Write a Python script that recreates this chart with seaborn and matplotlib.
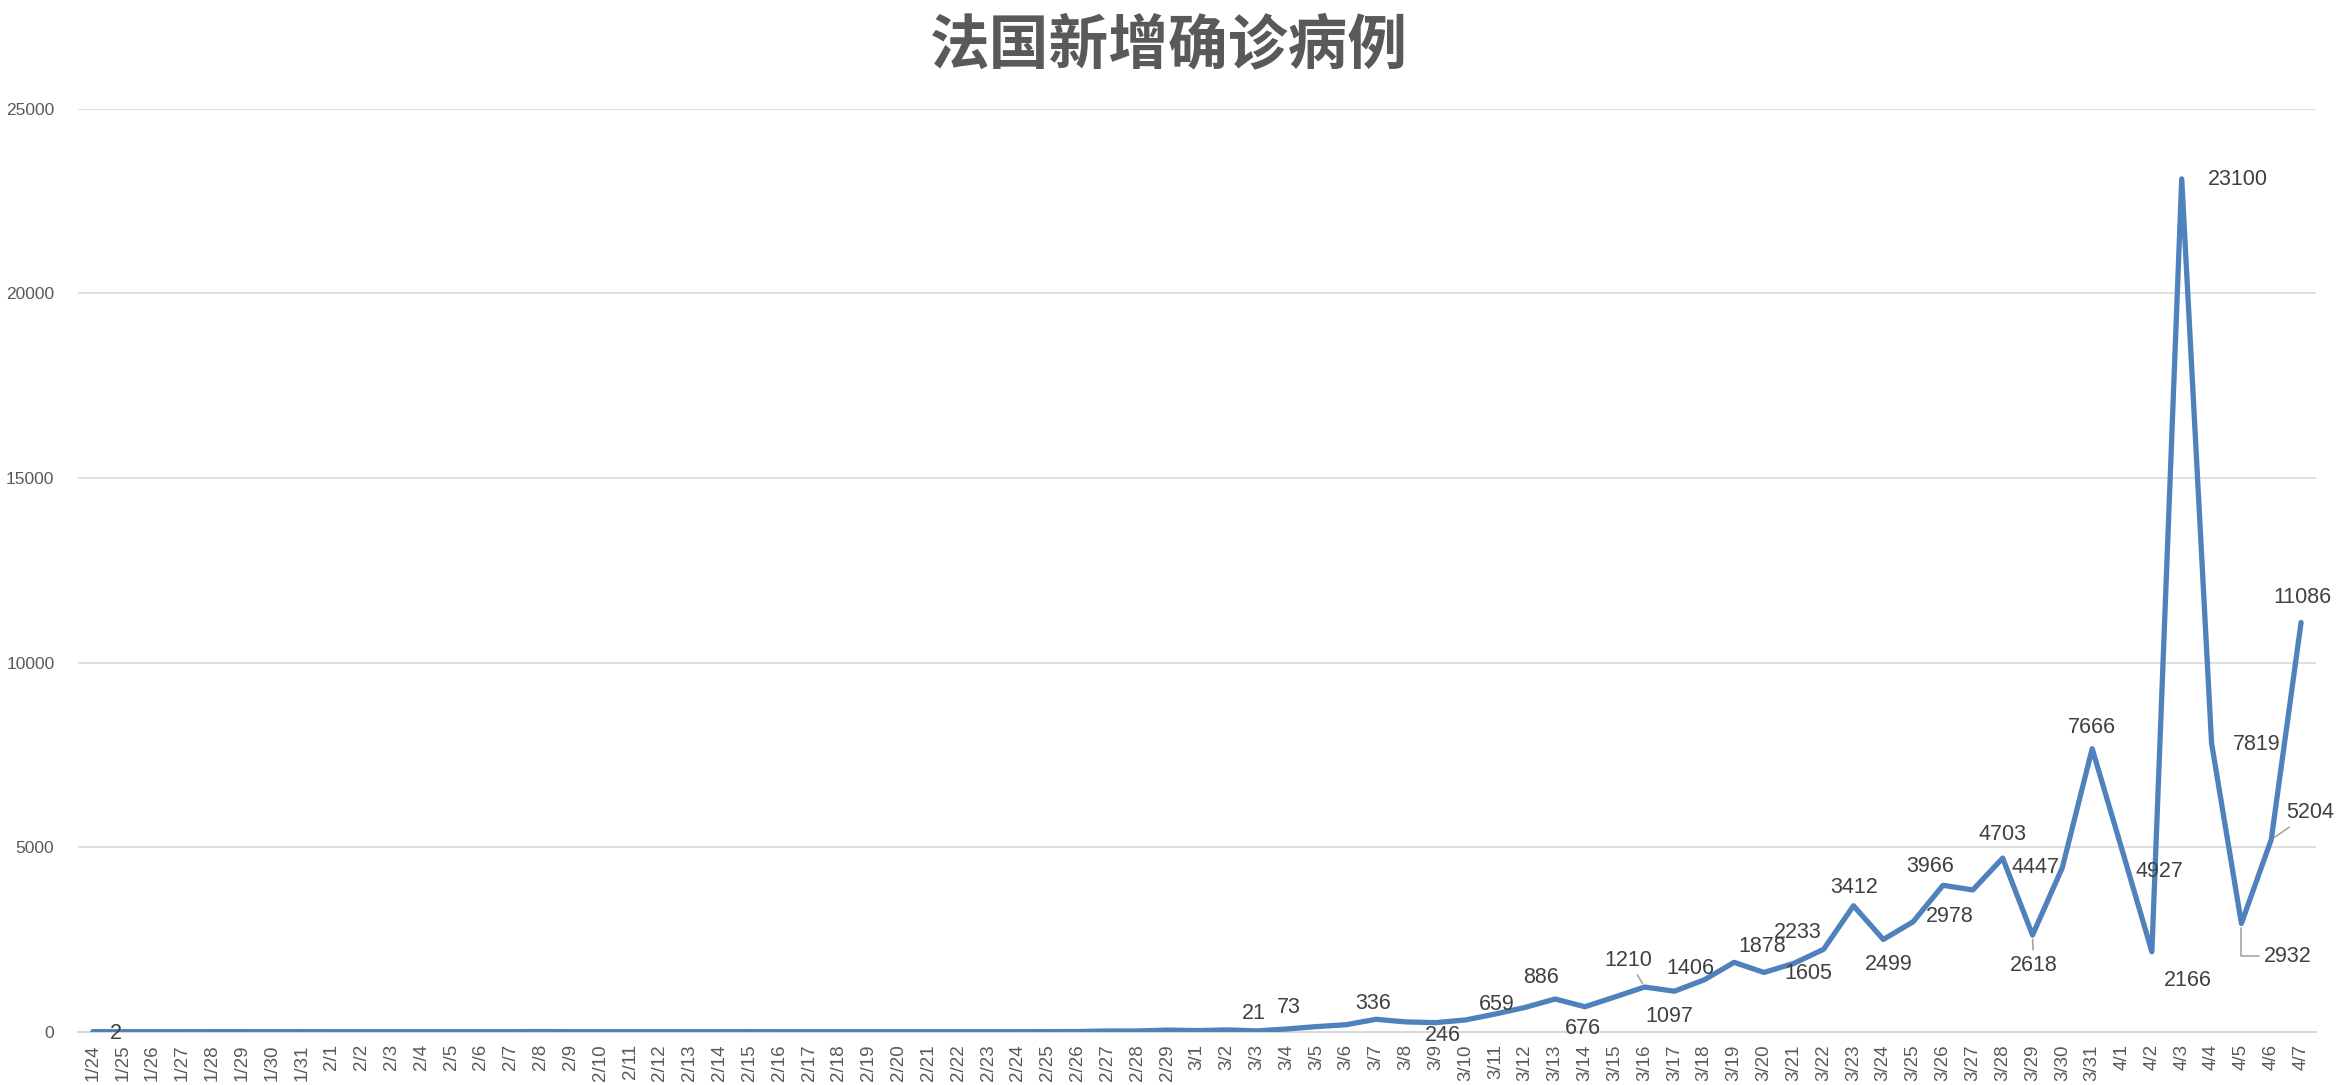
import numpy as np
import pandas as pd
import seaborn as sns
import matplotlib.pyplot as plt

# categories: daily dates 1/24 .. 4/7 (2020)
dates = pd.date_range('2020-01-24', '2020-04-07', freq='D')
date_labels = [f'{d.month}/{d.day}' for d in dates]

# new confirmed cases per day
jan_cases = [2, 0, 0, 0, 1, 1, 0, 1]
feb_cases = [0, 0, 0, 0, 0, 0, 0, 5, 0, 0, 0, 0, 0, 0, 1, 0, 0, 0, 0, 0, 0, 0, 0, 0,
             2, 4, 20, 19, 43]
mar_cases = [30, 48, 21, 73, 138, 190, 336, 265, 246, 318, 480, 659, 886, 676, 940,
             1210, 1097, 1406, 1878, 1605, 1850, 2233, 3412, 2499, 2978, 3966, 3840,
             4703, 2618, 4447, 7666]
apr_cases = [4927, 2166, 23100, 7819, 2932, 5204, 11086]
new_cases = jan_cases + feb_cases + mar_cases + apr_cases

title = '法国新增确诊病例'
y_ticks = [0, 5000, 10000, 15000, 20000, 25000]

# which points carry a value label, and where the label sits (offset in pixels)
label_offsets = {
    0: (23, -2), 39: (-3, 17), 40: (2, 22), 43: (-3, 16), 45: (7, -13),
    48: (-28, 3), 49: (-14, 21), 50: (-2, -22), 52: (-16, 27), 53: (-5, -25),
    54: (-14, 11), 55: (28, 16), 56: (44, -1), 58: (-26, 17), 59: (1, 18),
    60: (5, -25), 61: (37, 5), 62: (-13, 19), 64: (0, 24), 65: (1, -30),
    66: (-27, 0), 67: (0, 21), 68: (37, -22), 69: (36, -29), 70: (56, -1),
    71: (45, -1), 72: (46, -33), 73: (39, 27), 74: (1, 25),
}
leader_lines = {52: 'arc3', 65: 'arc3', 73: 'arc3', 72: 'angle,angleA=0,angleB=90,rad=0'}

df = pd.DataFrame({'idx': np.arange(len(new_cases)), 'cases': new_cases})

sns.set_style('white')
plt.rcParams['font.family'] = ['Liberation Sans', 'DejaVu Sans']

fig = plt.figure(figsize=(23.38, 10.85), dpi=100)
ax = fig.add_axes([78 / 2338, 1 - 1031.7 / 1085, (2316 - 78) / 2338, (1031.7 - 108.8) / 1085])

sns.lineplot(data=df, x='idx', y='cases', ax=ax, color='#4F81BD', linewidth=3.8,
             solid_joinstyle='round', solid_capstyle='round', zorder=3)

ax.set_xlim(-0.5, len(new_cases) - 0.5)
ax.set_ylim(0, 25000)
ax.set_yticks(y_ticks)
ax.set_yticklabels([str(v) for v in y_ticks])
ax.set_xticks(df['idx'])
ax.set_xticklabels(date_labels, rotation=90)
ax.set_xticks(np.arange(-0.5, len(new_cases), 1), minor=True)
ax.set_xlabel('')
ax.set_ylabel('')

ax.grid(axis='y', color='#D9D9D9', linewidth=1.2)
ax.grid(axis='x', visible=False)
for side in ['top', 'right', 'left']:
    ax.spines[side].set_visible(False)
ax.spines['bottom'].set_color('#D9D9D9')
ax.spines['bottom'].set_linewidth(1.5)

ax.tick_params(axis='y', length=0, pad=17, labelsize=12.5, labelcolor='#595959')
ax.tick_params(axis='x', which='major', length=0, pad=9, labelsize=13.5, labelcolor='#595959')
ax.tick_params(axis='x', which='minor', length=6, width=1.2, color='#D9D9D9', direction='out')

for i, (dx, dy) in label_offsets.items():
    arrow = None
    if i in leader_lines:
        arrow = dict(arrowstyle='-', color='#A6A6A6', linewidth=1.2,
                     connectionstyle=leader_lines[i], shrinkA=1, shrinkB=3)
        if i == 72:
            arrow['relpos'] = (0, 0.5)
    ax.annotate(str(new_cases[i]), xy=(i, new_cases[i]), xytext=(dx, dy),
                textcoords='offset pixels', ha='center', va='center',
                fontsize=15.5, color='#404040', arrowprops=arrow, zorder=4,
                annotation_clip=False)

fig.text(0.5, 1 - 46 / 1085, title, ha='center', va='center', fontsize=43,
         color='#595959', fontweight='bold', family=['Noto Sans CJK SC', 'DejaVu Sans'])

fig.savefig('out.png', dpi=100)
